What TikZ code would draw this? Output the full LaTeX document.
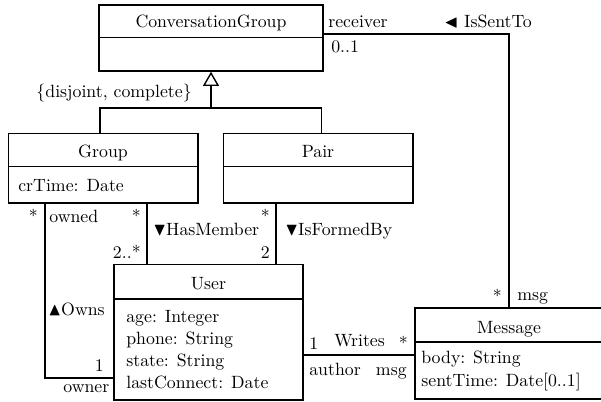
\documentclass[tikz,border=0pt]{standalone}
\usepackage{amssymb}
\usetikzlibrary{fit,arrows.meta}
\tikzset{
  cls/.style={draw,inner sep=0pt,line width=0.8pt},
  lbl/.style={inner sep=0pt},
  conn/.style={line width=0.8pt},
}
\begin{document}
\begin{tikzpicture}[x=0.5625pt,y=-0.5625pt]
\useasboundingbox (0,0) rectangle (601,402);
% ConversationGroup
\node[cls,fit={(99,5)(323,37.5)}] (cgH) {};
\node[cls,fit={(99,37.5)(323,71)}] (cgB) {};
\node[lbl,anchor=base] (cgN) at (211,27) {ConversationGroup};
% Group
\node[cls,fit={(8.5,133.5)(198,166.5)}] (grpH) {};
\node[cls,fit={(8.5,166.5)(198,203)}] (grpB) {};
\node[lbl,anchor=base] (grpN) at (103,157) {Group};
\node[lbl,anchor=base west] (grpA) at (18,191) {crTime: Date};
% Pair
\node[cls,fit={(223.5,133.5)(413,166.5)}] (pairH) {};
\node[cls,fit={(223.5,166.5)(413,203)}] (pairB) {};
\node[lbl,anchor=base] (pairN) at (318,157) {Pair};
% User
\node[cls,fit={(114,264.5)(303,299)}] (userH) {};
\node[cls,fit={(114,299)(303,400)}] (userB) {};
\node[lbl,anchor=base] (userN) at (208.5,289) {User};
\node[lbl,anchor=base west] (ua1) at (126,322) {age: Integer};
\node[lbl,anchor=base west] (ua2) at (126,344) {phone: String};
\node[lbl,anchor=base west] (ua3) at (126,366) {state: String};
\node[lbl,anchor=base west] (ua4) at (126,388) {lastConnect: Date};
% Message
\node[cls,fit={(415,308)(604,342)}] (msgH) {};
\node[cls,fit={(415,342)(604,399)}] (msgB) {};
\node[lbl,anchor=base] (msgN) at (509,333) {Message};
\node[lbl,anchor=base west] (ma1) at (421,363) {body: String};
\node[lbl,anchor=base west] (ma2) at (421,386) {sentTime: Date[0..1]};
% Generalization
\coordinate (gen) at (211,108);
\draw[conn] (grpH.north -| 100,0) |- (gen);
\draw[conn] (pairH.north -| 321.5,0) |- (gen);
\draw[conn,-{Triangle[open,length=8pt,width=9pt]}] (gen) -- (cgB.south -| gen);
\node[lbl,anchor=base east] (gset) at (192,97) {\{disjoint, complete\}};
% IsSentTo
\draw[conn] (cgH.east |- 0,34) -| (msgH.north -| 509,0);
\node[lbl,anchor=base west] (l1) at (328,28) {receiver};
\node[lbl,anchor=base west] (l2) at (444,28) {$\blacktriangleleft$ IsSentTo};
\node[lbl,anchor=base west] (l3) at (331,53) {0..1};
\node[lbl,anchor=base east] (l4) at (502,302) {*};
\node[lbl,anchor=base west] (l5) at (517,300) {msg};
% Owns
\draw[conn] (grpB.south -| 45,0) |- (userB.west |- 0,378);
\node[lbl,anchor=base east] (o1) at (38,222) {*};
\node[lbl,anchor=base west] (o2) at (49,222) {owned};
\node[lbl,anchor=base west] (o3) at (48,315) {$\blacktriangle$Owns};
\node[lbl,anchor=base east] (o4) at (104,371) {1};
\node[lbl,anchor=base west] (o5) at (63,392) {owner};
% HasMember
\draw[conn] (grpB.south -| 147,0) -- (userH.north -| 147,0);
\node[lbl,anchor=base east] (h1) at (141,222) {*};
\node[lbl,anchor=base east] (h2) at (141,258) {2..*};
\node[lbl,anchor=base west] (h3) at (153,235) {$\blacktriangledown$HasMember};
% IsFormedBy
\draw[conn] (pairB.south -| 276,0) -- (userH.north -| 276,0);
\node[lbl,anchor=base east] (f1) at (270,222) {*};
\node[lbl,anchor=base east] (f2) at (270,258) {2};
\node[lbl,anchor=base west] (f3) at (285,235) {$\blacktriangledown$IsFormedBy};
% Writes
\draw[conn] (userB.east |- 0,355) -- (msgB.west |- 0,355);
\node[lbl,anchor=base west] (w1) at (309,349) {1};
\node[lbl,anchor=base west] (w2) at (334,346) {Writes};
\node[lbl,anchor=base east] (w3) at (408,349) {*};
\node[lbl,anchor=base west] (w4) at (309,375) {author};
\node[lbl,anchor=base east] (w5) at (407,375) {msg};
\end{tikzpicture}
\end{document}
